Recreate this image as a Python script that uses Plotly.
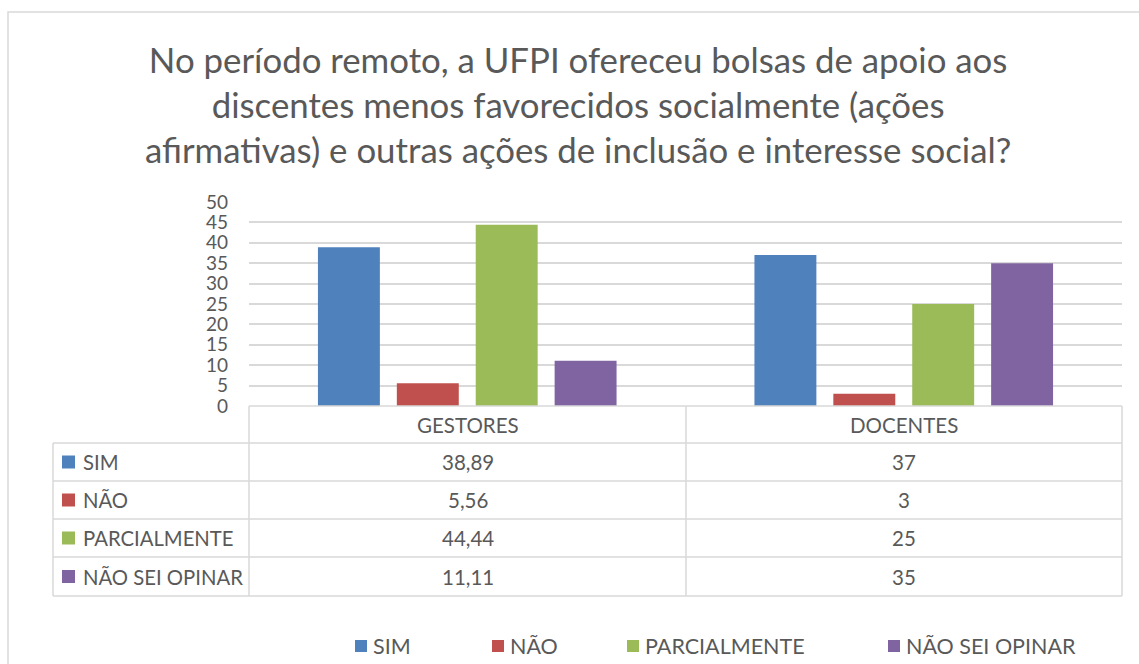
import plotly.graph_objects as go

# ---- data ----
categories = ["GESTORES", "DOCENTES"]
series_names = ["SIM", "NÃO", "PARCIALMENTE", "NÃO SEI OPINAR"]
sim = [38.89, 37]
nao = [5.56, 3]
parcialmente = [44.44, 25]
nao_sei = [11.11, 35]
series_values = [sim, nao, parcialmente, nao_sei]
colors = ["#4F81BD", "#C0504D", "#9BBB59", "#8064A2"]
title_text = ("No período remoto, a UFPI ofereceu bolsas de apoio aos<br>"
              "discentes menos favorecidos socialmente (ações<br>"
              "afirmativas) e outras ações de inclusão e interesse social?")

W, H = 1139, 664
L, R, T, B = 249, 1122, 202, 406  # plot area in px
FONT = "Lato"
TXT = "#595959"
GRID = "#D9D9D9"


def px(x):
    return (x - L) / (R - L)


def py(y):
    return (B - y) / (B - T)


def fmt(v):
    if float(v).is_integer():
        return str(int(v))
    return f"{v:.2f}".replace(".", ",")


fig = go.Figure()
for name, vals, col in zip(series_names, series_values, colors):
    fig.add_trace(go.Bar(x=categories, y=vals, name=name, marker_color=col,
                         marker_line_width=0, showlegend=False))

shapes = []
annotations = []

# outer chart border
shapes.append(dict(type="rect", xref="paper", yref="paper",
                   x0=px(8), x1=px(1150), y0=py(12), y1=py(680),
                   line=dict(color=GRID, width=1.5), layer="below"))

# table geometry
col_x = [53, 249, 686, 1122]
row_y = [406, 443, 481, 519, 557, 596]


def hline(x0, x1, y):
    shapes.append(dict(type="line", xref="paper", yref="paper",
                       x0=px(x0), x1=px(x1), y0=py(y), y1=py(y),
                       line=dict(color=GRID, width=1.5)))


def vline(x, y0, y1):
    shapes.append(dict(type="line", xref="paper", yref="paper",
                       x0=px(x), x1=px(x), y0=py(y0), y1=py(y1),
                       line=dict(color=GRID, width=1.5)))


hline(col_x[1], col_x[3], row_y[0])
for y in row_y[1:]:
    hline(col_x[0], col_x[3], y)
vline(col_x[0], row_y[1], row_y[-1])
for x in col_x[1:]:
    vline(x, row_y[0], row_y[-1])


def text(x, y, s, size, xanchor="center"):
    annotations.append(dict(x=px(x), y=py(y), xref="paper", yref="paper",
                            text=s, showarrow=False, xanchor=xanchor,
                            yanchor="middle",
                            font=dict(family=FONT, size=size, color=TXT)))


# title
text(578, 105, title_text, 34.8)

# header row
for i, cat in enumerate(categories):
    cx = (col_x[i + 1] + col_x[i + 2]) / 2
    cy = (row_y[0] + row_y[1]) / 2
    text(cx, cy, cat, 20.5)

# series rows
for r, (name, vals, col) in enumerate(zip(series_names, series_values, colors)):
    cy = (row_y[r + 1] + row_y[r + 2]) / 2
    shapes.append(dict(type="rect", xref="paper", yref="paper",
                       x0=px(62), x1=px(75), y0=py(cy - 6.5), y1=py(cy + 6.5),
                       fillcolor=col, line=dict(width=0)))
    text(81, cy, name, 20.3, xanchor="left")
    for i, v in enumerate(vals):
        cx = (col_x[i + 1] + col_x[i + 2]) / 2
        text(cx, cy, fmt(v), 20.5)

# bottom legend
legend_x = [355, 492, 627, 888]
ly = 646
for name, col, lx in zip(series_names, colors, legend_x):
    shapes.append(dict(type="rect", xref="paper", yref="paper",
                       x0=px(lx), x1=px(lx + 12), y0=py(ly - 6), y1=py(ly + 6),
                       fillcolor=col, line=dict(width=0)))
    text(lx + 16, ly, name, 21.5, xanchor="left")

fig.update_layout(
    width=W, height=H,
    margin=dict(l=L, r=W - R, t=T, b=H - B, pad=0),
    paper_bgcolor="white", plot_bgcolor="white",
    barmode="group", bargap=0.277, bargroupgap=0.215,
    xaxis=dict(showticklabels=False, showgrid=False, zeroline=False,
               showline=False, ticks=""),
    yaxis=dict(range=[0, 50], dtick=5, tick0=0, showgrid=True,
               gridcolor=GRID, gridwidth=1.5, zeroline=False, showline=False,
               ticks="", ticklabelstandoff=20,
               tickfont=dict(family=FONT, size=19, color=TXT)),
    shapes=shapes, annotations=annotations,
    showlegend=False,
)

fig.write_html("out.html", config={"displayModeBar": False},
               post_script="document.body.style.margin='0px';document.body.style.overflow='hidden';")
